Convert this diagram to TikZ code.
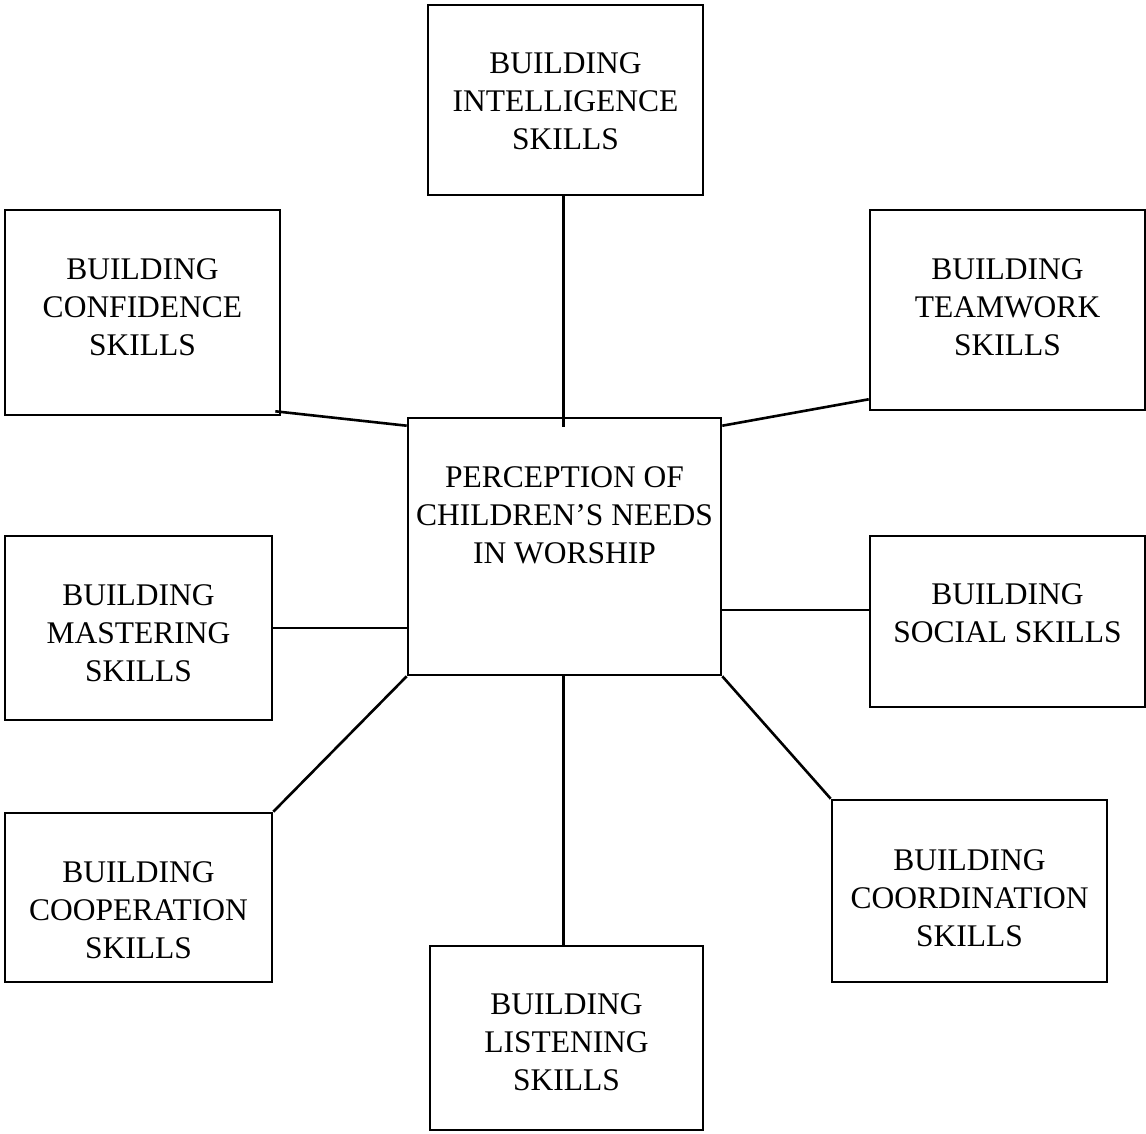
\documentclass[tikz,border=0pt]{standalone}
\usepackage{fontspec}
\setmainfont{Liberation Serif}
\begin{document}
\begin{tikzpicture}[x=1pt,y=-1pt,
  box/.style={draw,line width=2.6pt,inner sep=0pt,minimum width=#1},
  box/.default=275pt,
  txt/.style={align=center,font=\fontsize{31.5}{38}\selectfont,inner sep=0pt},
  conn/.style={line width=2.6pt}]
\useasboundingbox (0,0) rectangle (1146,1133);
\node[box, minimum height=190pt, label={[txt,yshift=-1pt]center:BUILDING\\INTELLIGENCE\\SKILLS}] (intel) at (565.5,100) {};
\node[box, minimum height=205pt, label={[txt,yshift=5.5pt]center:BUILDING\\CONFIDENCE\\SKILLS}] (conf) at (142.5,312.5) {};
\node[box, minimum height=200pt, label={[txt,yshift=3pt]center:BUILDING\\TEAMWORK\\SKILLS}] (team) at (1007.5,310) {};
\node[box=313pt, minimum height=257pt, label={[txt,yshift=31.5pt]center:PERCEPTION OF\\CHILDREN'S NEEDS\\IN WORSHIP}] (center) at (564.5,546.5) {};
\node[box=267pt, minimum height=184pt, label={[txt,yshift=-5pt]center:BUILDING\\MASTERING\\SKILLS}] (mast) at (138.5,628) {};
\node[box, minimum height=171pt, label={[txt,yshift=8.5pt]center:BUILDING\\SOCIAL SKILLS}] (social) at (1007.5,621.5) {};
\node[box=267pt, minimum height=169pt, label={[txt,yshift=-12.5pt]center:BUILDING\\COOPERATION\\SKILLS}] (coop) at (138.5,897.5) {};
\node[box, minimum height=182pt, label={[txt,yshift=-7pt]center:BUILDING\\COORDINATION\\SKILLS}] (coord) at (969.5,891) {};
\node[box=273pt, minimum height=184pt, label={[txt,yshift=-4pt]center:BUILDING\\LISTENING\\SKILLS}] (listen) at (566.5,1038) {};
\draw[conn] (intel.south -| center.north) ++(-1pt,0) coordinate (a1) -- ([yshift=-10pt]a1 |- center.north);
\draw[conn] ([shift={(-6pt,5pt)}]conf.south east) -- ([yshift=-9pt]center.north west);
\draw[conn] ([yshift=12pt]team.south west) -- ([yshift=-9pt]center.north east);
\draw[conn] (mast.east) -- (mast.east -| center.west);
\draw[conn] ([yshift=11.5pt]social.west) -- ([yshift=11.5pt,xshift=-2pt]social.west -| center.east);
\draw[conn] (coop.north east) -- (center.south west);
\draw[conn] (coord.north west) -- (center.south east);
\draw[conn] (listen.north -| a1) -- (center.south -| a1);
\end{tikzpicture}
\end{document}
